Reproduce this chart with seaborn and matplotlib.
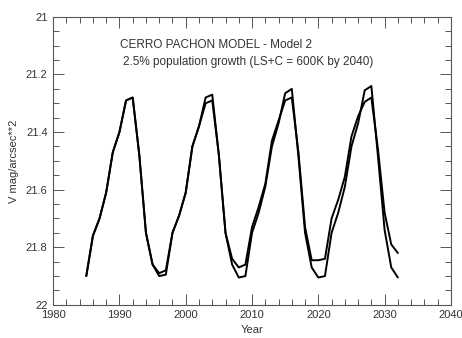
import numpy as np
import pandas as pd
import matplotlib
matplotlib.use("Agg")
import matplotlib.pyplot as plt
from matplotlib.ticker import MultipleLocator
import seaborn as sns

years = list(range(1985, 2033))

# sky brightness, two model runs
model_a = [21.90, 21.76, 21.70, 21.61, 21.47, 21.40, 21.29, 21.28, 21.48, 21.75,
           21.86, 21.90, 21.895, 21.75, 21.69, 21.61, 21.45, 21.38, 21.28, 21.27,
           21.48, 21.75, 21.86, 21.905, 21.90, 21.75, 21.68, 21.59, 21.45, 21.37,
           21.265, 21.25, 21.485, 21.75, 21.87, 21.905, 21.90, 21.75, 21.68, 21.59,
           21.45, 21.37, 21.255, 21.24, 21.485, 21.74, 21.87, 21.905]
model_b = [21.90, 21.76, 21.70, 21.61, 21.47, 21.40, 21.29, 21.28, 21.48, 21.75,
           21.86, 21.89, 21.88, 21.75, 21.69, 21.61, 21.45, 21.38, 21.30, 21.29,
           21.48, 21.75, 21.84, 21.87, 21.86, 21.73, 21.66, 21.58, 21.43, 21.36,
           21.29, 21.28, 21.47, 21.73, 21.845, 21.845, 21.84, 21.70, 21.635, 21.555,
           21.415, 21.345, 21.295, 21.28, 21.46, 21.68, 21.79, 21.82]

df = pd.DataFrame({
    "year": years * 2,
    "mag": model_a + model_b,
    "run": ["a"] * len(years) + ["b"] * len(years),
})

sns.set_style("ticks")
plt.rcParams["font.family"] = ["Liberation Sans", "DejaVu Sans"]

grey = "#555555"
fig = plt.figure(figsize=(4.62, 3.38), dpi=100)
ax = fig.add_axes([0.115, 0.098, 0.861, 0.852])

sns.lineplot(data=df, x="year", y="mag", hue="run", palette=["black", "black"],
             linewidth=1.4, legend=False, ax=ax)

ax.set_xlim(1980, 2040)
ax.set_ylim(22, 21)
ax.xaxis.set_major_locator(MultipleLocator(10))
ax.xaxis.set_minor_locator(MultipleLocator(2))
ax.yaxis.set_major_locator(MultipleLocator(0.2))
ax.yaxis.set_minor_locator(MultipleLocator(0.05))
ax.set_yticklabels([f"{v:g}" for v in ax.get_yticks()])

ax.tick_params(which="both", direction="in", top=True, right=True,
               colors=grey, labelcolor="#333333", labelsize=8, width=0.7)
ax.tick_params(which="major", length=8, pad=4)
ax.tick_params(which="minor", length=4)
for sp in ax.spines.values():
    sp.set_color(grey)
    sp.set_linewidth(0.8)

ax.set_xlabel("Year", fontsize=8, color="#333333", labelpad=3)
ax.set_ylabel("V mag/arcsec**2", fontsize=8, color="#333333", labelpad=5)

ax.text(1990.1, 21.097, "CERRO PACHON MODEL - Model 2", fontsize=8.5,
        color="#333333", va="center")
ax.text(1990.6, 21.156, "2.5% population growth (LS+C = 600K by 2040)", fontsize=8.5,
        color="#333333", va="center")

fig.savefig("out.png", dpi=100)
